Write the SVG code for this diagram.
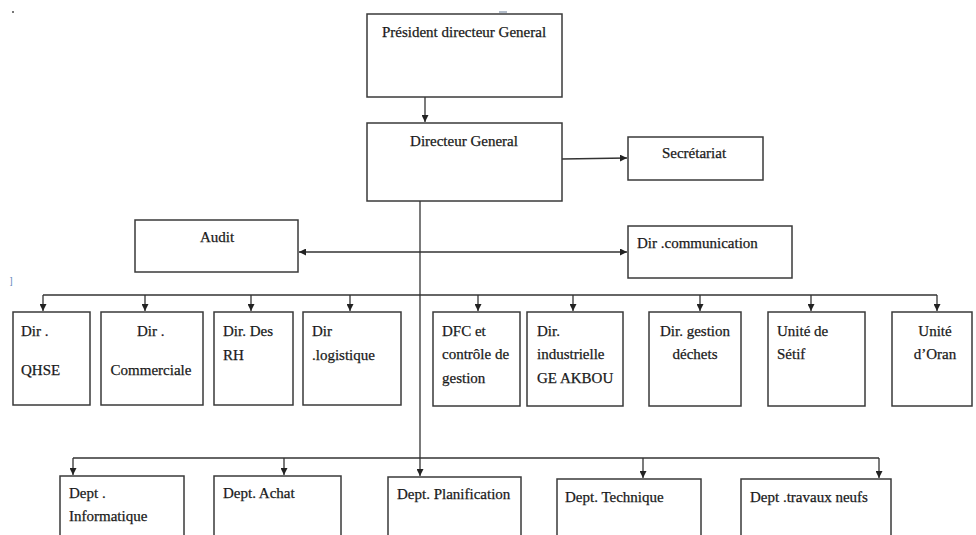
<svg xmlns="http://www.w3.org/2000/svg" width="976" height="535" viewBox="0 0 976 535">
<defs>
<style>
.box{fill:#fff;stroke:#3a3a3a;stroke-width:1.5}
.t{font-family:"Liberation Serif","Times New Roman",serif;font-size:15px;fill:#1a1a1a;stroke:#1a1a1a;stroke-width:0.25}
.m{text-anchor:middle}
.c{fill:none;stroke:#333;stroke-width:1.3}
</style>
<marker id="ah" viewBox="0 0 10 10" refX="10" refY="5" markerWidth="7" markerHeight="7" orient="auto-start-reverse" markerUnits="userSpaceOnUse">
<path d="M0,0 L10,5 L0,10 z" fill="#222"/>
</marker>
</defs>
<rect width="976" height="535" fill="#fff"/>

<!-- artifacts -->
<rect x="12" y="11" width="2" height="2" fill="#777"/>
<line x1="499" y1="12" x2="507" y2="12" stroke="#9aa7b8" stroke-width="1.5"/>
<text x="10" y="284" font-family="Liberation Sans, sans-serif" font-size="9" fill="#5a82b8">]</text>

<g id="connectors">
<line class="c" x1="425" y1="97" x2="425" y2="122" marker-end="url(#ah)"/>
<line class="c" x1="562" y1="159" x2="627" y2="158" marker-end="url(#ah)"/>
<line class="c" x1="299" y1="252" x2="627" y2="252" marker-start="url(#ah)" marker-end="url(#ah)"/>
<line class="c" x1="420" y1="201" x2="420" y2="476" marker-end="url(#ah)"/>
<polyline class="c" points="43,295 937,295"/>
<line class="c" x1="43" y1="295" x2="43" y2="311" marker-end="url(#ah)"/>
<line class="c" x1="145" y1="295" x2="145" y2="311" marker-end="url(#ah)"/>
<line class="c" x1="251" y1="295" x2="251" y2="311" marker-end="url(#ah)"/>
<line class="c" x1="350" y1="295" x2="350" y2="311" marker-end="url(#ah)"/>
<line class="c" x1="478" y1="295" x2="478" y2="311" marker-end="url(#ah)"/>
<line class="c" x1="573" y1="295" x2="573" y2="311" marker-end="url(#ah)"/>
<line class="c" x1="700" y1="295" x2="700" y2="311" marker-end="url(#ah)"/>
<line class="c" x1="811" y1="295" x2="811" y2="311" marker-end="url(#ah)"/>
<line class="c" x1="937" y1="295" x2="937" y2="311" marker-end="url(#ah)"/>
<polyline class="c" points="73,458 879,458"/>
<line class="c" x1="73" y1="458" x2="73" y2="475" marker-end="url(#ah)"/>
<line class="c" x1="284" y1="458" x2="284" y2="475" marker-end="url(#ah)"/>
<line class="c" x1="643" y1="458" x2="643" y2="478" marker-end="url(#ah)"/>
<line class="c" x1="879" y1="458" x2="879" y2="478" marker-end="url(#ah)"/>
</g>

<g id="pdg"><rect class="box" x="367" y="14" width="195" height="83"/><text class="t m" x="464" y="37">Président directeur General</text></g>
<g id="dg"><rect class="box" x="367" y="123" width="195" height="78"/><text class="t m" x="464" y="146">Directeur General</text></g>
<g id="secretariat"><rect class="box" x="628" y="137" width="135" height="43"/><text class="t m" x="694" y="158">Secrétariat</text></g>
<g id="audit"><rect class="box" x="135" y="220" width="163" height="52"/><text class="t m" x="217" y="242">Audit</text></g>
<g id="communication"><rect class="box" x="628" y="226" width="164" height="52"/><text class="t" x="637" y="248">Dir .communication</text></g>

<g id="qhse"><rect class="box" x="13" y="312" width="77" height="93"/><text class="t" x="21" y="336">Dir  .</text><text class="t" x="21" y="375">QHSE</text></g>
<g id="commerciale"><rect class="box" x="101" y="312" width="102" height="93"/><text class="t" x="137" y="336">Dir  .</text><text class="t m" x="151" y="375">Commerciale</text></g>
<g id="rh"><rect class="box" x="214" y="312" width="79" height="93"/><text class="t" x="223" y="336">Dir. Des</text><text class="t" x="223" y="360">RH</text></g>
<g id="logistique"><rect class="box" x="303" y="312" width="98" height="93"/><text class="t" x="312" y="336">Dir</text><text class="t" x="312" y="360">.logistique</text></g>
<g id="dfc"><rect class="box" x="433" y="312" width="87" height="94"/><text class="t" x="442" y="336">DFC et</text><text class="t" x="442" y="359">contrôle de</text><text class="t" x="442" y="383">gestion</text></g>
<g id="industrielle"><rect class="box" x="527" y="312" width="96" height="94"/><text class="t" x="537" y="336">Dir.</text><text class="t" x="537" y="359">industrielle</text><text class="t" x="537" y="383">GE AKBOU</text></g>
<g id="dechets"><rect class="box" x="649" y="312" width="92" height="94"/><text class="t m" x="695" y="336">Dir. gestion</text><text class="t m" x="695" y="359">déchets</text></g>
<g id="setif"><rect class="box" x="768" y="312" width="97" height="94"/><text class="t" x="777" y="336">Unité de</text><text class="t" x="777" y="359">Sétif</text></g>
<g id="oran"><rect class="box" x="892" y="312" width="80" height="94"/><text class="t m" x="935" y="336">Unité</text><text class="t m" x="935" y="359">d’Oran</text></g>

<g id="informatique"><rect class="box" x="60" y="476" width="124" height="70"/><text class="t" x="69" y="498">Dept .</text><text class="t" x="69" y="521">Informatique</text></g>
<g id="achat"><rect class="box" x="214" y="476" width="127" height="70"/><text class="t" x="223" y="498">Dept. Achat</text></g>
<g id="planification"><rect class="box" x="388" y="477" width="133" height="70"/><text class="t" x="397" y="499">Dept. Planification</text></g>
<g id="technique"><rect class="box" x="557" y="479" width="144" height="70"/><text class="t" x="565" y="502">Dept. Technique</text></g>
<g id="travaux"><rect class="box" x="741" y="479" width="150" height="70"/><text class="t" x="750" y="502">Dept .travaux neufs</text></g>
</svg>
